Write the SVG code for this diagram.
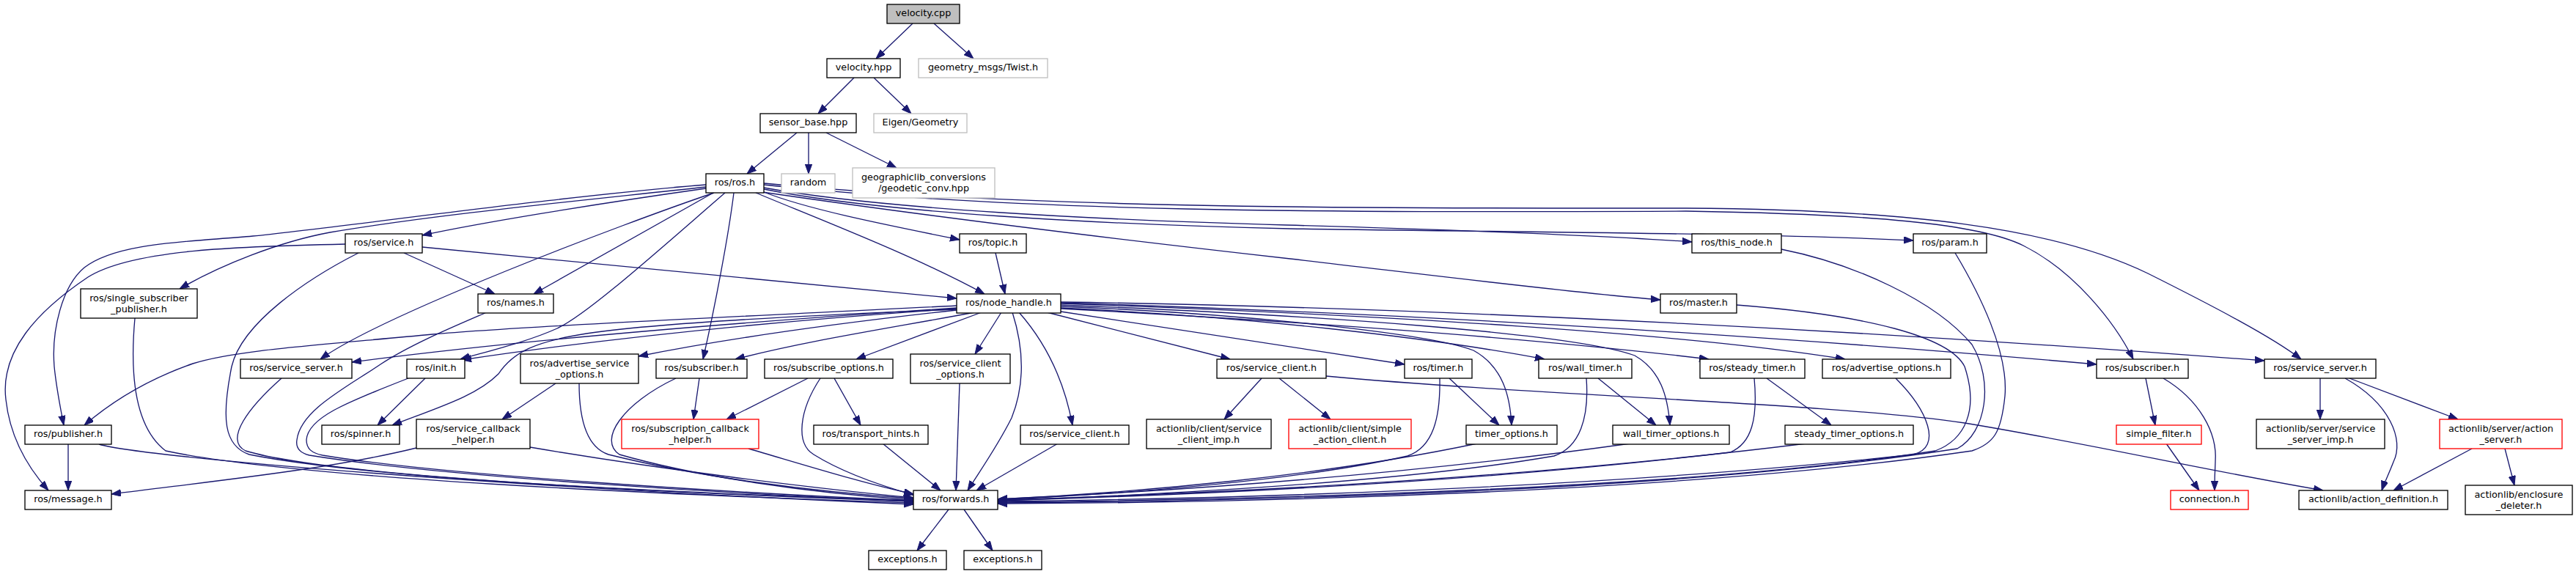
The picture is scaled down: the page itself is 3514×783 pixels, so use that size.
<svg xmlns="http://www.w3.org/2000/svg" width="3514" height="783" viewBox="0 0 3514 783">
<defs>
<marker id="a" markerWidth="13" markerHeight="10" refX="13" refY="4.7" orient="auto" markerUnits="userSpaceOnUse"><path d="M0,0 L13,4.7 L0,9.4 z" fill="#191970" stroke="#191970" stroke-width="1"/></marker>
<style>
.n rect{fill:#fff;stroke:#000;stroke-width:1.33}
.n.g rect{stroke:#bfbfbf}
.n.r rect{stroke:#ff0000}
.n.f rect{fill:#bfbfbf}
.n text{font-family:"DejaVu Sans","Liberation Sans",sans-serif;font-size:12.8px;text-anchor:middle;fill:#000}
#edges path{fill:none;stroke:#191970;stroke-width:1.33;marker-end:url(#a)}
</style>
</defs>
<rect width="3514" height="783" fill="#fff"/>
<g id="edges">
<path d="M1245,32 L1195,80"/>
<path d="M1274,32 L1328,80"/>
<path d="M1165,106 L1116,155"/>
<path d="M1192,106 L1243,155"/>
<path d="M1087,181 L1019,237"/>
<path d="M1103,181 L1103,237"/>
<path d="M1127,181 L1223,229"/>
<path d="M963,257 C800,280 650,305 576,321"/>
<path d="M963,252 C760,268 450,312 345,322 C260,330 160,330 115,365 C85,390 70,450 74,500 C77,530 82,555 87,580"/>
<path d="M963,255 C780,275 600,292 450,317 C380,330 300,362 245,394"/>
<path d="M973,263 L728,401"/>
<path d="M974,263 C850,305 520,430 437,490"/>
<path d="M989,263 C900,340 800,430 760,448 C720,466 670,478 628,490"/>
<path d="M1001,263 C994,320 975,420 959,490"/>
<path d="M1031,263 C1120,300 1250,350 1343,401"/>
<path d="M1042,262 C1100,285 1200,305 1309,327"/>
<path d="M1042,256 C1200,285 1500,300 1755,307 C2000,314 2200,322 2308,330"/>
<path d="M1042,258 C1200,290 1500,306 1760,312 C2100,317 2400,318 2610,328"/>
<path d="M1040,262 C1300,300 1600,335 1760,353 C1950,375 2150,400 2265,409"/>
<path d="M1042,252 C1400,290 1800,290 2300,288 C2550,292 2700,305 2760,335 C2830,370 2885,440 2910,490"/>
<path d="M1042,250 C1400,284 1800,284 2300,284 C2600,286 2800,310 2930,373 C3020,418 3100,460 3139,490"/>
<path d="M576,337 L1305,407"/>
<path d="M551,345 L675,401"/>
<path d="M489,345 C420,380 330,440 316,500 C302,570 305,608 340,620 C500,652 900,672 1246,683"/>
<path d="M471,333 C330,336 180,340 120,378 C50,425 0,480 8,545 C14,600 40,640 66,669"/>
<path d="M1358,345 L1371,401"/>
<path d="M184,434 C178,500 180,580 226,615 C400,652 900,675 1246,686"/>
<path d="M93,606 L93,669"/>
<path d="M135,606 C200,625 700,665 1246,688"/>
<path d="M664,426 C620,445 560,470 519,497 C470,530 410,560 405,600 C403,612 410,618 422,621 C600,650 1000,674 1246,684"/>
<path d="M384,516 C340,555 305,600 335,615 C450,650 900,672 1246,684"/>
<path d="M557,516 C470,550 420,570 418,600 C418,612 425,618 440,621 C600,648 1000,672 1246,683"/>
<path d="M580,516 L515,580"/>
<path d="M568,611 C450,640 300,655 152,674"/>
<path d="M723,610 C900,640 1100,665 1246,679"/>
<path d="M758,523 L685,572"/>
<path d="M790,523 C790,570 800,610 830,620 C950,650 1100,670 1246,680"/>
<path d="M954,516 L946,572"/>
<path d="M922,516 C850,550 815,600 845,620 C950,650 1100,672 1246,682"/>
<path d="M1102,516 L991,572"/>
<path d="M1119,516 C1090,560 1085,605 1110,620 C1150,645 1200,662 1246,675"/>
<path d="M1138,516 L1174,580"/>
<path d="M1021,612 C1100,635 1180,660 1246,674"/>
<path d="M1204,605 L1283,669"/>
<path d="M1309,523 L1304,669"/>
<path d="M1381,426 C1395,470 1400,520 1380,570 C1360,610 1335,645 1320,669"/>
<path d="M1443,605 L1332,669"/>
<path d="M1294,695 L1251,751"/>
<path d="M1315,695 L1354,751"/>
<path d="M1964,516 C1965,570 1955,610 1920,622 C1750,660 1500,675 1361,682"/>
<path d="M2015,605 C1800,650 1550,672 1361,681"/>
<path d="M2164,516 C2168,570 2155,610 2120,622 C1900,660 1550,676 1361,683"/>
<path d="M2224,605 C1900,650 1600,670 1361,681"/>
<path d="M2393,516 C2398,570 2390,605 2360,617 C2000,660 1600,676 1361,683"/>
<path d="M2464,605 C2100,650 1700,672 1361,682"/>
<path d="M2586,516 C2630,560 2650,610 2610,620 C2200,665 1700,680 1361,684"/>
<path d="M2369,416 C2550,430 2660,460 2680,500 C2700,560 2680,600 2640,615 C2300,668 1700,682 1361,685"/>
<path d="M2430,340 C2530,360 2640,410 2690,470 C2720,520 2710,590 2670,612 C2300,670 1700,684 1361,686"/>
<path d="M2667,345 C2700,400 2740,480 2735,540 C2730,590 2720,605 2690,615 C2300,672 1700,686 1361,687"/>
<path d="M1305,417 C1000,432 700,446 590,456 C420,472 320,478 263,496 C200,518 150,550 115,580"/>
<path d="M1305,420 C1000,440 700,465 480,494"/>
<path d="M1305,421 C1100,435 850,458 630,491"/>
<path d="M1305,422 C1100,430 900,440 800,455 C730,466 700,480 680,510 C650,540 600,555 535,580"/>
<path d="M1305,423 C1150,440 1000,460 871,486"/>
<path d="M1330,426 C1200,450 1100,465 1003,490"/>
<path d="M1339,426 L1168,490"/>
<path d="M1366,426 L1330,483"/>
<path d="M1390,426 C1420,460 1450,510 1463,580"/>
<path d="M1428,426 L1678,490"/>
<path d="M1447,425 L1916,497"/>
<path d="M1447,418 C1700,428 1950,455 2010,478 C2050,500 2060,540 2062,580"/>
<path d="M1447,420 C1700,432 1950,460 2107,490"/>
<path d="M1447,416 C1800,430 2150,455 2230,485 C2265,505 2275,540 2278,580"/>
<path d="M1447,421 C1800,440 2100,462 2331,490"/>
<path d="M1447,414 C1900,430 2300,455 2517,490"/>
<path d="M1447,413 C2000,430 2500,465 2860,497"/>
<path d="M1447,412 C2000,420 2600,455 3089,492"/>
<path d="M1721,516 L1670,572"/>
<path d="M1745,516 L1815,572"/>
<path d="M1809,513 C2100,540 2500,550 2680,577 C2850,605 3000,640 3169,669"/>
<path d="M1977,516 L2045,580"/>
<path d="M2180,516 L2259,580"/>
<path d="M2410,516 L2498,580"/>
<path d="M2927,516 L2940,580"/>
<path d="M2951,516 C3000,545 3025,590 3022,630 C3021,650 3021,660 3021,669"/>
<path d="M2955,605 L3000,669"/>
<path d="M3165,516 L3165,572"/>
<path d="M3199,516 C3260,550 3280,600 3265,630 C3258,648 3252,660 3249,669"/>
<path d="M3205,516 L3353,572"/>
<path d="M3372,612 L3265,669"/>
<path d="M3417,612 L3430,662"/>
</g>
<g id="n_velocity_cpp" class="n f"><rect x="1210" y="6" width="99" height="26"/><text x="1259.5" y="22">velocity.cpp</text></g>
<g id="n_velocity_hpp" class="n"><rect x="1128" y="80" width="100" height="26"/><text x="1178" y="96">velocity.hpp</text></g>
<g id="n_twist" class="n g"><rect x="1253" y="80" width="176" height="26"/><text x="1341" y="96">geometry_msgs/Twist.h</text></g>
<g id="n_sensor_base" class="n"><rect x="1037" y="155" width="131" height="26"/><text x="1102.5" y="171">sensor_base.hpp</text></g>
<g id="n_eigen" class="n g"><rect x="1192" y="155" width="127" height="26"/><text x="1255.5" y="171">Eigen/Geometry</text></g>
<g id="n_ros" class="n"><rect x="963" y="237" width="79" height="26"/><text x="1002.5" y="253">ros/ros.h</text></g>
<g id="n_random" class="n g"><rect x="1066" y="237" width="73" height="26"/><text x="1102.5" y="253">random</text></g>
<g id="n_geo" class="n g"><rect x="1163" y="229" width="194" height="41"/><text x="1260" y="246">geographiclib_conversions</text><text x="1260" y="261">/geodetic_conv.hpp</text></g>
<g id="n_service" class="n"><rect x="471" y="319" width="105" height="26"/><text x="523.5" y="335">ros/service.h</text></g>
<g id="n_topic" class="n"><rect x="1309" y="319" width="91" height="26"/><text x="1354.5" y="335">ros/topic.h</text></g>
<g id="n_this_node" class="n"><rect x="2308" y="319" width="122" height="26"/><text x="2369" y="335">ros/this_node.h</text></g>
<g id="n_param" class="n"><rect x="2610" y="319" width="100" height="26"/><text x="2660" y="335">ros/param.h</text></g>
<g id="n_ssp" class="n"><rect x="110" y="394" width="159" height="40"/><text x="189.5" y="411">ros/single_subscriber</text><text x="189.5" y="425.5">_publisher.h</text></g>
<g id="n_names" class="n"><rect x="652" y="401" width="103" height="26"/><text x="703.5" y="417">ros/names.h</text></g>
<g id="n_node_handle" class="n"><rect x="1305" y="401" width="142" height="26"/><text x="1376" y="417">ros/node_handle.h</text></g>
<g id="n_master" class="n"><rect x="2265" y="401" width="104" height="26"/><text x="2317" y="417">ros/master.h</text></g>
<g id="n_service_server_l" class="n"><rect x="328" y="490" width="152" height="26"/><text x="404" y="506">ros/service_server.h</text></g>
<g id="n_init" class="n"><rect x="555" y="490" width="79" height="26"/><text x="594.5" y="506">ros/init.h</text></g>
<g id="n_aso" class="n"><rect x="710" y="483" width="161" height="40"/><text x="790.5" y="500">ros/advertise_service</text><text x="790.5" y="514.5">_options.h</text></g>
<g id="n_subscriber_l" class="n"><rect x="895" y="490" width="124" height="26"/><text x="957" y="506">ros/subscriber.h</text></g>
<g id="n_subscribe_options" class="n"><rect x="1043" y="490" width="175" height="26"/><text x="1130.5" y="506">ros/subscribe_options.h</text></g>
<g id="n_sco" class="n"><rect x="1242" y="483" width="136" height="40"/><text x="1310" y="500">ros/service_client</text><text x="1310" y="514.5">_options.h</text></g>
<g id="n_service_client_u" class="n"><rect x="1660" y="490" width="149" height="26"/><text x="1734.5" y="506">ros/service_client.h</text></g>
<g id="n_timer" class="n"><rect x="1916" y="490" width="92" height="26"/><text x="1962" y="506">ros/timer.h</text></g>
<g id="n_wall_timer" class="n"><rect x="2099" y="490" width="127" height="26"/><text x="2162.5" y="506">ros/wall_timer.h</text></g>
<g id="n_steady_timer" class="n"><rect x="2319" y="490" width="143" height="26"/><text x="2390.5" y="506">ros/steady_timer.h</text></g>
<g id="n_advertise_options" class="n"><rect x="2486" y="490" width="175" height="26"/><text x="2573.5" y="506">ros/advertise_options.h</text></g>
<g id="n_subscriber_r" class="n"><rect x="2860" y="490" width="125" height="26"/><text x="2922.5" y="506">ros/subscriber.h</text></g>
<g id="n_service_server_r" class="n"><rect x="3089" y="490" width="152" height="26"/><text x="3165" y="506">ros/service_server.h</text></g>
<g id="n_publisher" class="n"><rect x="34" y="580" width="118" height="26"/><text x="93" y="596">ros/publisher.h</text></g>
<g id="n_spinner" class="n"><rect x="439" y="580" width="106" height="26"/><text x="492" y="596">ros/spinner.h</text></g>
<g id="n_sch" class="n"><rect x="568" y="572" width="155" height="40"/><text x="645.5" y="589">ros/service_callback</text><text x="645.5" y="603.5">_helper.h</text></g>
<g id="n_subcb" class="n r"><rect x="848" y="572" width="187" height="40"/><text x="941.5" y="589">ros/subscription_callback</text><text x="941.5" y="603.5">_helper.h</text></g>
<g id="n_transport_hints" class="n"><rect x="1110" y="580" width="156" height="26"/><text x="1188" y="596">ros/transport_hints.h</text></g>
<g id="n_service_client_l" class="n"><rect x="1392" y="580" width="148" height="26"/><text x="1466" y="596">ros/service_client.h</text></g>
<g id="n_scimp" class="n"><rect x="1564" y="572" width="170" height="40"/><text x="1649" y="589">actionlib/client/service</text><text x="1649" y="603.5">_client_imp.h</text></g>
<g id="n_sac" class="n r"><rect x="1758" y="572" width="167" height="40"/><text x="1841.5" y="589">actionlib/client/simple</text><text x="1841.5" y="603.5">_action_client.h</text></g>
<g id="n_timer_options" class="n"><rect x="2000" y="580" width="124" height="26"/><text x="2062" y="596">timer_options.h</text></g>
<g id="n_wall_timer_options" class="n"><rect x="2200" y="580" width="159" height="26"/><text x="2279.5" y="596">wall_timer_options.h</text></g>
<g id="n_steady_timer_options" class="n"><rect x="2435" y="580" width="175" height="26"/><text x="2522.5" y="596">steady_timer_options.h</text></g>
<g id="n_simple_filter" class="n r"><rect x="2887" y="580" width="116" height="26"/><text x="2945" y="596">simple_filter.h</text></g>
<g id="n_ssimp" class="n"><rect x="3078" y="572" width="175" height="40"/><text x="3165.5" y="589">actionlib/server/service</text><text x="3165.5" y="603.5">_server_imp.h</text></g>
<g id="n_action_server" class="n r"><rect x="3328" y="572" width="167" height="40"/><text x="3411.5" y="589">actionlib/server/action</text><text x="3411.5" y="603.5">_server.h</text></g>
<g id="n_message" class="n"><rect x="34" y="669" width="118" height="26"/><text x="93" y="685">ros/message.h</text></g>
<g id="n_forwards" class="n"><rect x="1246" y="669" width="115" height="26"/><text x="1303.5" y="685">ros/forwards.h</text></g>
<g id="n_connection" class="n r"><rect x="2961" y="669" width="106" height="26"/><text x="3014" y="685">connection.h</text></g>
<g id="n_action_definition" class="n"><rect x="3136" y="669" width="203" height="26"/><text x="3237.5" y="685">actionlib/action_definition.h</text></g>
<g id="n_enclosure_deleter" class="n"><rect x="3363" y="662" width="146" height="40"/><text x="3436" y="679">actionlib/enclosure</text><text x="3436" y="693.5">_deleter.h</text></g>
<g id="n_exceptions1" class="n"><rect x="1185" y="751" width="106" height="26"/><text x="1238" y="767">exceptions.h</text></g>
<g id="n_exceptions2" class="n"><rect x="1315" y="751" width="106" height="26"/><text x="1368" y="767">exceptions.h</text></g>
</svg>
